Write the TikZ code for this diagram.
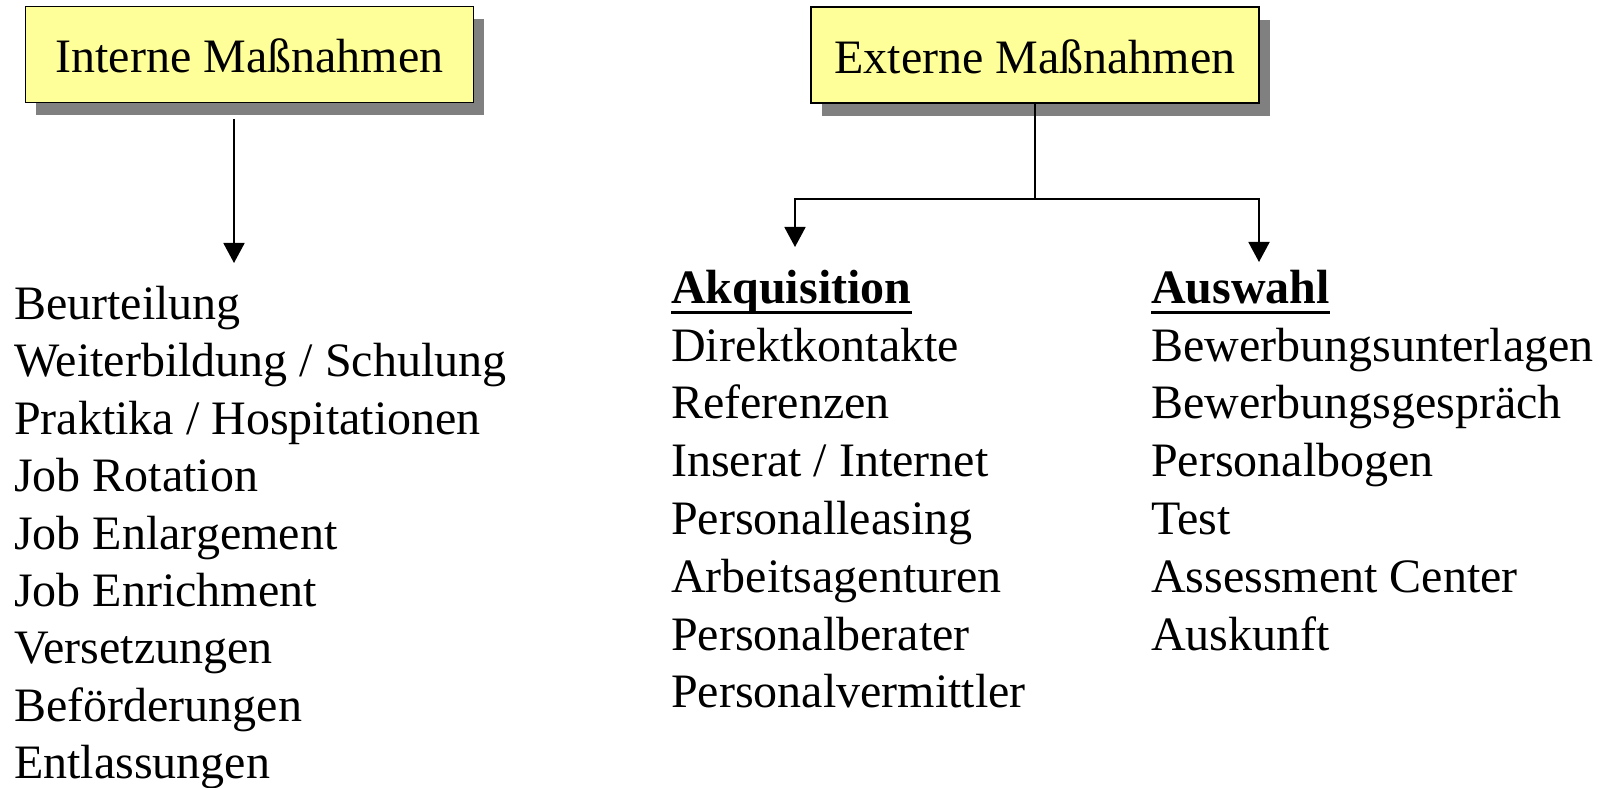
\documentclass[tikz,border=0pt]{standalone}
\usepackage{fontspec}
\setmainfont{Liberation Serif}
\usetikzlibrary{arrows.meta,shadows}
\definecolor{boxfill}{HTML}{FFFF99}
\begin{document}
\begin{tikzpicture}[x=0.75pt,y=-0.75pt,
  box/.style={draw,line width=1.1pt,fill=boxfill,minimum width=336pt,minimum height=72pt,
    text height=28pt,font=\fontsize{36}{43}\selectfont,
    drop shadow={shadow xshift=8pt,shadow yshift=-9.5pt,fill=black!50,opacity=1}},
  item/.style={anchor=base west,inner sep=0pt,font=\fontsize{36}{43}\selectfont},
  head/.style={item,font=\fontsize{36}{43}\selectfont\bfseries},
  arr/.style={line width=1.4pt,-{Triangle[width=15.75pt,length=15pt]}}]
  \useasboundingbox (0,0) rectangle (1604,788);
  \node[box] (int) at (249.5,54.5) {Interne Maßnahmen};
  \node[box] (ext) at (1035,55) {Externe Maßnahmen};
  \coordinate (intStart) at (234,119);
  \coordinate (intTip) at (234,263);
  \coordinate (fork) at (1035,199);
  \coordinate (akqTip) at (795,247);
  \coordinate (ausTip) at (1259,262);
  \draw[arr] (intStart) -- (intTip);
  \draw[line width=1.4pt] (ext.south) -- (fork);
  \draw[arr] (fork) -| (akqTip);
  \draw[arr] (fork) -| (ausTip);
  \foreach \t [count=\i] in {Beurteilung, Weiterbildung / Schulung, Praktika / Hospitationen,
    Job Rotation, Job Enlargement, Job Enrichment, Versetzungen, Beförderungen, Entlassungen}
    \node[item] (int\i) at (14,{319.5+57.4*(\i-1)}) {\t};
  \node[head] (akq) at (671,304) {Akquisition};
  \draw[line width=2.4pt] ([yshift=-6.5pt]akq.base west) -- ([yshift=-6.5pt]akq.base east);
  \foreach \t [count=\i] in {Direktkontakte, Referenzen, Inserat / Internet, Personalleasing,
    Arbeitsagenturen, Personalberater, Personalvermittler}
    \node[item] (akq\i) at (671,{361+57.8*(\i-1)}) {\t};
  \node[head] (aus) at (1151,304) {Auswahl};
  \draw[line width=2.4pt] ([yshift=-6.5pt]aus.base west) -- ([yshift=-6.5pt]aus.base east);
  \foreach \t [count=\i] in {Bewerbungsunterlagen, Bewerbungsgespräch, Personalbogen, Test,
    Assessment Center, Auskunft}
    \node[item] (aus\i) at (1151,{361+57.8*(\i-1)}) {\t};
\end{tikzpicture}
\end{document}
